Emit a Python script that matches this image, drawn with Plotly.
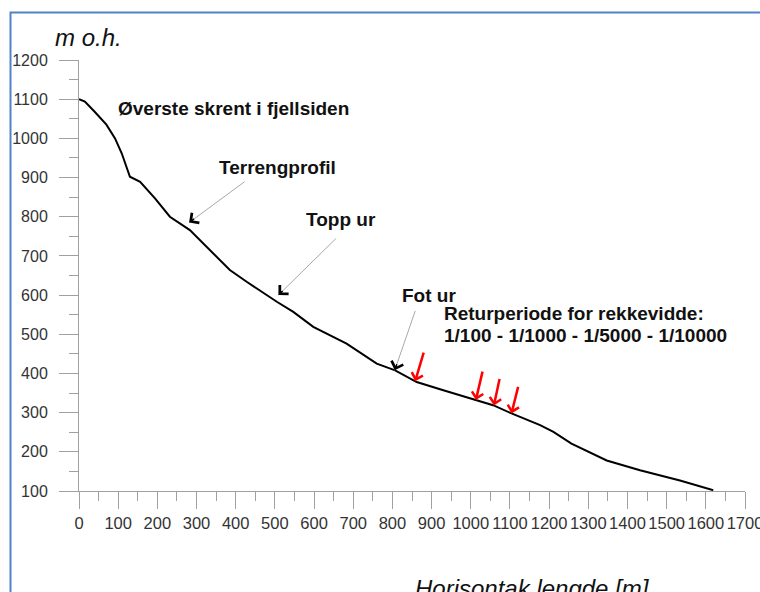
import numpy as np
import plotly.graph_objects as go

# Terrain profile (horizontal length [m], elevation [m a.s.l.])
dist_m = [0, 15, 40, 70, 92, 109, 130, 156, 194, 232, 283, 330, 385, 428, 470,
          505, 547, 598, 683, 760, 807, 862, 930, 1006, 1057, 1104, 1177, 1211,
          1257, 1347, 1432, 1534, 1619]
elev_m = [1100, 1094, 1068, 1035, 1000, 962, 902, 889, 847, 800, 766, 719, 664,
          634, 605, 583, 557, 519, 476, 425, 408, 378, 357, 334, 319, 298, 268,
          251, 221, 178, 153, 127, 102]

x_ticks = list(range(0, 1701, 100))
y_ticks = list(range(100, 1201, 100))

# Text labels
label_texts = ["Øverste skrent i fjellsiden", "Terrengprofil", "Topp ur", "Fot ur",
               "Returperiode for rekkevidde:", "1/100 - 1/1000 - 1/5000 - 1/10000"]
label_x = [94, 352, 575, 820, 927, 927]
label_y = [1077, 926, 794, 600, 554, 496]

# Pointer arrows (grey line, black head): point indicated + tail offset in px
pointer_x = [281, 509, 806]
pointer_y = [785, 600, 408]
pointer_dx = [57, 59, 21]
pointer_dy = [-42, -58, -61]

# Run-out distances for return periods 1/100, 1/1000, 1/5000, 1/10000
runout_x = [858, 1013, 1059, 1104]
runout_dx = [9, 7, 6, 7]
runout_dy = [-30, -30, -28, -28]

FONT = "Liberation Sans, Arial, sans-serif"
AXC = "#a0a0a0"

fig = go.Figure()
fig.add_trace(go.Scatter(x=dist_m, y=elev_m, mode="lines",
                         line=dict(color="black", width=2), hoverinfo="skip",
                         showlegend=False))

ann = []
for t, x, y in zip(label_texts, label_x, label_y):
    ann.append(dict(x=x, y=y, text="<b>%s</b>" % t, showarrow=False,
                    xanchor="left", yanchor="middle",
                    font=dict(family=FONT, size=19, color="#111111")))

for x, y, dx, dy in zip(pointer_x, pointer_y, pointer_dx, pointer_dy):
    ann.append(dict(x=x, y=y, ax=dx, ay=dy, text="", showarrow=True,
                    arrowhead=0, arrowwidth=1, arrowcolor="#a8a8a8"))
    L = (dx ** 2 + dy ** 2) ** 0.5
    ann.append(dict(x=x, y=y, ax=dx / L * 8, ay=dy / L * 8, text="", showarrow=True,
                    arrowhead=4, arrowwidth=1.5, arrowsize=1.6, arrowcolor="black"))

runout_y = np.interp(runout_x, dist_m, elev_m)
for x, y, dx, dy in zip(runout_x, runout_y, runout_dx, runout_dy):
    ann.append(dict(x=x, y=float(y), ax=dx, ay=dy, text="", showarrow=True,
                    arrowhead=4, arrowwidth=2.5, arrowsize=0.9, arrowcolor="red"))

ann.append(dict(xref="paper", yref="paper", x=(88.5 - 79) / 666, y=(491 - 37) / 431,
                text="<i>m o.h.</i>", showarrow=False, xanchor="center",
                yanchor="middle", font=dict(family=FONT, size=24, color="#111111")))
ann.append(dict(xref="paper", yref="paper", x=(532 - 79) / 666, y=(491 - 573) / 431,
                text="<i>Horisontak lengde [m]</i>", showarrow=False,
                xanchor="center", yanchor="top",
                font=dict(family=FONT, size=24, color="#111111")))

fig.update_layout(
    width=760, height=592,
    margin=dict(l=79, r=15, t=60, b=101),
    paper_bgcolor="white", plot_bgcolor="white",
    annotations=ann,
    shapes=[dict(type="rect", xref="paper", yref="paper",
                 x0=(10.5 - 79) / 666, x1=1.2, y0=-0.5, y1=(491 - 12.5) / 431,
                 line=dict(color="#4f84c9", width=2), layer="below")],
    xaxis=dict(range=[0, 1700], tickvals=x_ticks, showgrid=False, zeroline=False,
               showline=True, linecolor=AXC, linewidth=1, automargin=False,
               ticks="outside", ticklen=17, tickcolor=AXC, tickwidth=1,
               tickangle=0, ticklabelstandoff=0, ticklabeloverflow="allow",
               minor=dict(dtick=50, ticks="outside", ticklen=9, tickcolor=AXC,
                          showgrid=False),
               tickfont=dict(family=FONT, size=16.5, color="#333333")),
    yaxis=dict(range=[100, 1200], tickvals=y_ticks, showgrid=False, zeroline=False,
               showline=True, linecolor=AXC, linewidth=1, automargin=False,
               ticks="outside", ticklen=19, tickcolor=AXC, tickwidth=1,
               ticklabelstandoff=8,
               minor=dict(dtick=50, ticks="outside", ticklen=9, tickcolor=AXC,
                          showgrid=False),
               tickfont=dict(family=FONT, size=16, color="#333333")),
)

fig.write_html("out.html")
